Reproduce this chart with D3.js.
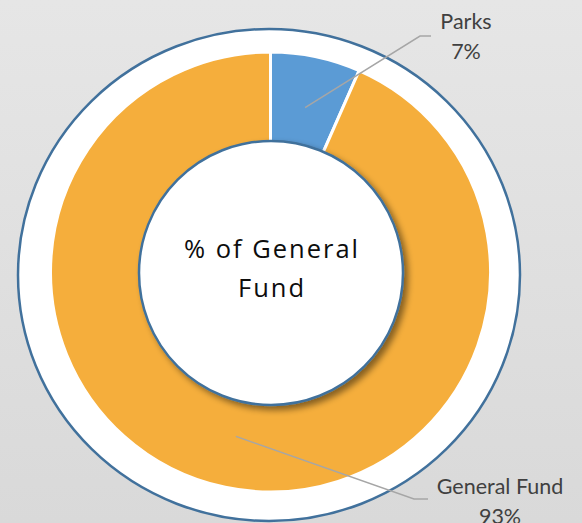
<!DOCTYPE html>
<html>
<head>
<meta charset="utf-8">
<script src="https://cdn.jsdelivr.net/npm/d3@7"></script>
<style>
  html, body { margin: 0; padding: 0; }
  body { width: 582px; height: 523px; overflow: hidden; }
</style>
</head>
<body>
<svg id="chart" width="582" height="523"></svg>
<script>
// --- data ---
const categories = ["Parks", "General Fund"];
const values = [6.6, 93.4];
const colors = ["#5B9BD5", "#F5AE3C"];
const centerLines = ["% of General", "Fund"];

// --- layout ---
const W = 582, H = 523;
const cx = 270.5, cy = 272;
const rOuter = 220, rInner = 120;

const svg = d3.select("#chart");
const defs = svg.append("defs");

// background gradient
const bg = defs.append("linearGradient").attr("id", "bg")
  .attr("x1", 0).attr("y1", 0).attr("x2", 0).attr("y2", 1);
bg.append("stop").attr("offset", "0%").attr("stop-color", "#e6e6e6");
bg.append("stop").attr("offset", "100%").attr("stop-color", "#d9d9d9");
svg.append("rect").attr("width", W).attr("height", H).attr("fill", "url(#bg)");

// shadow for the centre disc
const f = defs.append("filter").attr("id", "shadow")
  .attr("x", "-20%").attr("y", "-20%").attr("width", "140%").attr("height", "140%");
f.append("feDropShadow").attr("dx", 4).attr("dy", 4).attr("stdDeviation", 3)
  .attr("flood-color", "#000").attr("flood-opacity", 0.45);

// outer ring shape
svg.append("ellipse")
  .attr("cx", 269).attr("cy", 275).attr("rx", 251).attr("ry", 246)
  .attr("fill", "#fff").attr("stroke", "#41719C").attr("stroke-width", 2.5);

// donut
const pie = d3.pie().sort(null).value(d => d);
const arc = d3.arc().innerRadius(rInner).outerRadius(rOuter);
const arcs = pie(values);

const g = svg.append("g").attr("transform", `translate(${cx},${cy})`);
g.selectAll("path.slice")
  .data(arcs)
  .enter().append("path")
  .attr("class", "slice")
  .attr("d", arc)
  .attr("fill", (d, i) => colors[i])
  .attr("stroke", "#fff")
  .attr("stroke-width", 3)
  .attr("stroke-linejoin", "round");

// centre disc
svg.append("circle")
  .attr("cx", 271).attr("cy", 273).attr("r", 132)
  .attr("fill", "#fff").attr("stroke", "#41719C").attr("stroke-width", 2.5)
  .attr("filter", "url(#shadow)");

const ct = svg.append("text")
  .attr("x", 271).attr("y", 258)
  .attr("text-anchor", "middle")
  .attr("font-family", "'Open Sans', sans-serif")
  .attr("font-size", 25.5)
  .attr("letter-spacing", 2)
  .attr("fill", "#0d0d0d");
centerLines.forEach((t, i) => {
  ct.append("tspan").attr("x", 272).attr("dy", i === 0 ? 0 : 39).text(t);
});

// leader lines and labels
const anchorArc = d3.arc().innerRadius(116).outerRadius(220);
const labelPos = [
  { elbow: [420, 36], end: [431, 36], tx: 466, ty: 29 },
  { elbow: [414, 499], end: [428, 499], tx: 500, ty: 494 }
];
const lab = svg.append("g");
arcs.forEach((d, i) => {
  const c = anchorArc.centroid(d);
  const p = labelPos[i];
  lab.append("polyline")
    .attr("points", [[cx + c[0], cy + c[1]], p.elbow, p.end].map(q => q.join(",")).join(" "))
    .attr("fill", "none").attr("stroke", "#A6A6A6").attr("stroke-width", 1.5);
  const t = lab.append("text")
    .attr("text-anchor", "middle")
    .attr("font-family", "Lato, 'Open Sans', sans-serif")
    .attr("font-size", 21.5)
    .attr("fill", "#404040");
  t.append("tspan").attr("x", p.tx).attr("y", p.ty).text(categories[i]);
  t.append("tspan").attr("x", p.tx).attr("y", p.ty + 30)
    .text(Math.round(d.value / d3.sum(values) * 100) + "%");
});
</script>
</body>
</html>
